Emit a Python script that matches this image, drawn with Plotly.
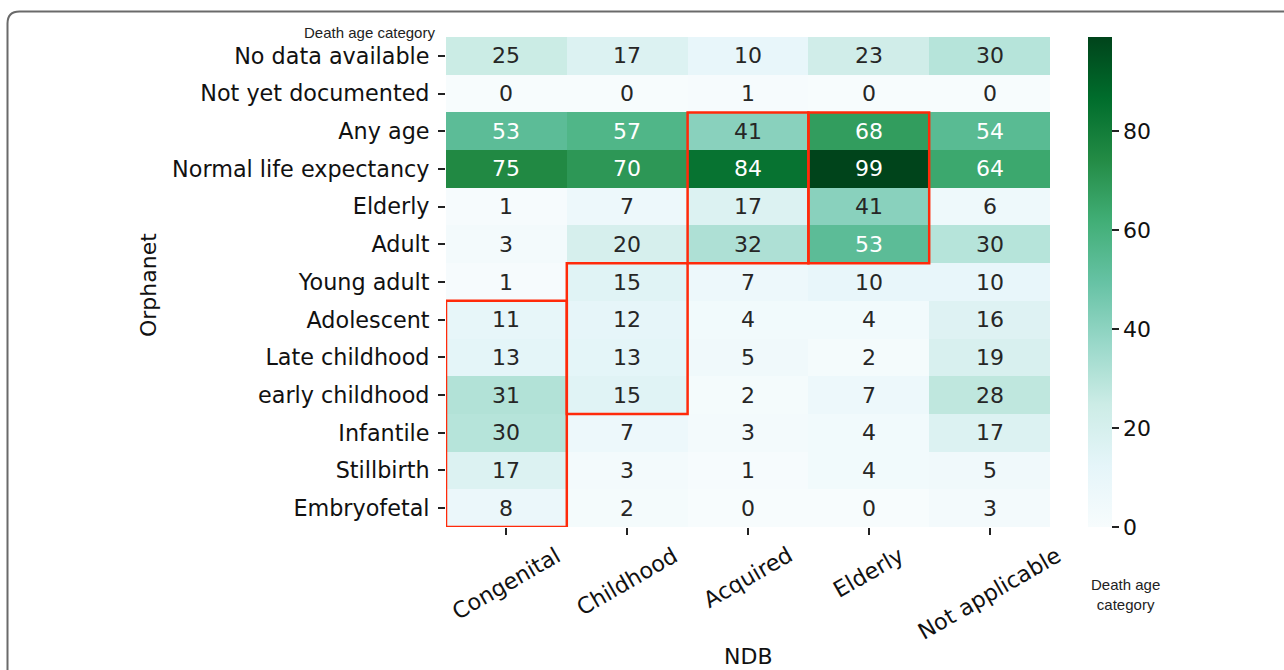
import plotly.graph_objects as go

# Death age categories: Orphanet (rows) vs NDB (columns)
ndb_categories = ["Congenital", "Childhood", "Acquired", "Elderly", "Not applicable"]
orphanet_categories = [
    "No data available", "Not yet documented", "Any age", "Normal life expectancy",
    "Elderly", "Adult", "Young adult", "Adolescent", "Late childhood",
    "early childhood", "Infantile", "Stillbirth", "Embryofetal",
]
counts = [
    [25, 17, 10, 23, 30],
    [0, 0, 1, 0, 0],
    [53, 57, 41, 68, 54],
    [75, 70, 84, 99, 64],
    [1, 7, 17, 41, 6],
    [3, 20, 32, 53, 30],
    [1, 15, 7, 10, 10],
    [11, 12, 4, 4, 16],
    [13, 13, 5, 2, 19],
    [31, 15, 2, 7, 28],
    [30, 7, 3, 4, 17],
    [17, 3, 1, 4, 5],
    [8, 2, 0, 0, 3],
]
colorbar_ticks = [0, 20, 40, 60, 80]
# highlighted blocks: (column, first row, last row)
highlight_blocks = [
    ("Congenital", "Adolescent", "Embryofetal"),
    ("Childhood", "Young adult", "early childhood"),
    ("Acquired", "Any age", "Adult"),
    ("Elderly", "Any age", "Adult"),
]

BUGN = ["#f7fcfd", "#e5f5f9", "#ccece6", "#99d8c9", "#66c2a4",
        "#41ae76", "#238b45", "#006d2c", "#00441b"]
ZMIN = 0
ZMAX = max(max(r) for r in counts)

W, H = 1284, 670
ML, MR, MT, MB = 446, 234, 37, 143
PW, PH = W - ML - MR, H - MT - MB


def px_x(px):
    return (px - ML) / PW


def px_y(py):
    return (H - MB - py) / PH


def hex_rgb(h):
    h = h.lstrip("#")
    return [int(h[i:i + 2], 16) / 255 for i in (0, 2, 4)]


def cmap(v):
    t = (v - ZMIN) / (ZMAX - ZMIN)
    t = min(max(t, 0), 1) * (len(BUGN) - 1)
    i = min(int(t), len(BUGN) - 2)
    f = t - i
    a, b = hex_rgb(BUGN[i]), hex_rgb(BUGN[i + 1])
    return [a[k] + (b[k] - a[k]) * f for k in range(3)]


def luminance(rgb):
    lin = [c / 12.92 if c <= 0.03928 else ((c + 0.055) / 1.055) ** 2.4 for c in rgb]
    return 0.2126 * lin[0] + 0.7152 * lin[1] + 0.0722 * lin[2]


colorscale = [[i / (len(BUGN) - 1), c] for i, c in enumerate(BUGN)]

fig = go.Figure()
fig.add_trace(go.Heatmap(
    z=counts, x=ndb_categories, y=orphanet_categories,
    colorscale=colorscale, zmin=ZMIN, zmax=ZMAX, xgap=0, ygap=0,
    hoverongaps=False,
    colorbar=dict(
        thickness=24, len=1, lenmode="fraction", y=0.5, yanchor="middle",
        x=px_x(1088), xanchor="left", xpad=0, ypad=0, outlinewidth=0,
        tickvals=colorbar_ticks, ticks="outside", ticklen=7, tickwidth=1.5,
        tickcolor="#222", tickfont=dict(family="DejaVu Sans", size=22, color="#111"),
    ),
))

annotations = []
DEJAVU = "DejaVu Sans"
for r, row_name in enumerate(orphanet_categories):
    for c, col_name in enumerate(ndb_categories):
        v = counts[r][c]
        color = "#ffffff" if luminance(cmap(v)) < 0.408 else "#262626"
        annotations.append(dict(
            x=col_name, y=row_name, xref="x", yref="y", text=str(v),
            showarrow=False, font=dict(family=DEJAVU, size=22, color=color),
        ))

# rotated column labels centred under each tick
for col_name in ndb_categories:
    annotations.append(dict(
        x=col_name, y=px_y(539), xref="x", yref="paper", text=col_name,
        textangle=-30, xanchor="center", yanchor="top", showarrow=False,
        font=dict(family=DEJAVU, size=22.3, color="#111"),
    ))

annotations += [
    dict(x=px_x(148), y=px_y(285), xref="paper", yref="paper", text="Orphanet",
         textangle=-90, showarrow=False, xanchor="center", yanchor="middle",
         font=dict(family=DEJAVU, size=22, color="#111")),
    dict(x=px_x(748), y=px_y(642), xref="paper", yref="paper", text="NDB",
         showarrow=False, xanchor="center", yanchor="top",
         font=dict(family=DEJAVU, size=22, color="#111")),
    dict(x=px_x(437), y=px_y(33), xref="paper", yref="paper",
         text="Death age category", showarrow=False, xanchor="right",
         yanchor="middle", font=dict(family="Liberation Sans", size=15, color="#222")),
    dict(x=px_x(1125), y=px_y(594), xref="paper", yref="paper",
         text="Death age<br>category", showarrow=False, xanchor="center",
         yanchor="middle", align="center",
         font=dict(family="Liberation Sans", size=15, color="#222")),
]

shapes = []
for col_name, first, last in highlight_blocks:
    ci = ndb_categories.index(col_name)
    r0 = orphanet_categories.index(first)
    r1 = orphanet_categories.index(last)
    shapes.append(dict(
        type="rect", xref="x", yref="y", x0=ci - 0.5, x1=ci + 0.5,
        y0=r0 - 0.5, y1=r1 + 0.5, line=dict(color="#ff2a0a", width=2.5),
        fillcolor="rgba(0,0,0,0)", layer="above",
    ))

# frame around the figure with a rounded top-left corner
bx, by, rad = 7.5, 11.5, 12
x0, xr = px_x(bx), px_x(W + 10)
yt, yb = px_y(by), px_y(H + 10)
path = (f"M {x0},{yb} L {x0},{px_y(by + rad)} Q {x0},{yt} {px_x(bx + rad)},{yt} "
        f"L {xr},{yt}")
shapes.append(dict(type="path", xref="paper", yref="paper", path=path,
                   line=dict(color="#6a6a6a", width=2)))

n_cols, n_rows = len(ndb_categories), len(orphanet_categories)
fig.update_layout(
    width=W, height=H,
    margin=dict(l=ML, r=MR, t=MT, b=MB, pad=0, autoexpand=False),
    paper_bgcolor="white", plot_bgcolor="white",
    annotations=annotations, shapes=shapes, showlegend=False,
    xaxis=dict(range=[-0.5, n_cols - 0.5], autorange=False,
               showticklabels=False, ticks="outside", ticklen=7, tickwidth=1.5,
               tickcolor="#222", showgrid=False, zeroline=False, showline=False,
               automargin=False),
    yaxis=dict(range=[n_rows - 0.5, -0.5], autorange=False,
               ticks="outside", ticklen=7, tickwidth=1.5,
               tickcolor="#222", showgrid=False, zeroline=False, showline=False,
               ticklabelstandoff=4, automargin=False,
               tickfont=dict(family=DEJAVU, size=22.3, color="#111")),
)

fig.write_html("out.html")
